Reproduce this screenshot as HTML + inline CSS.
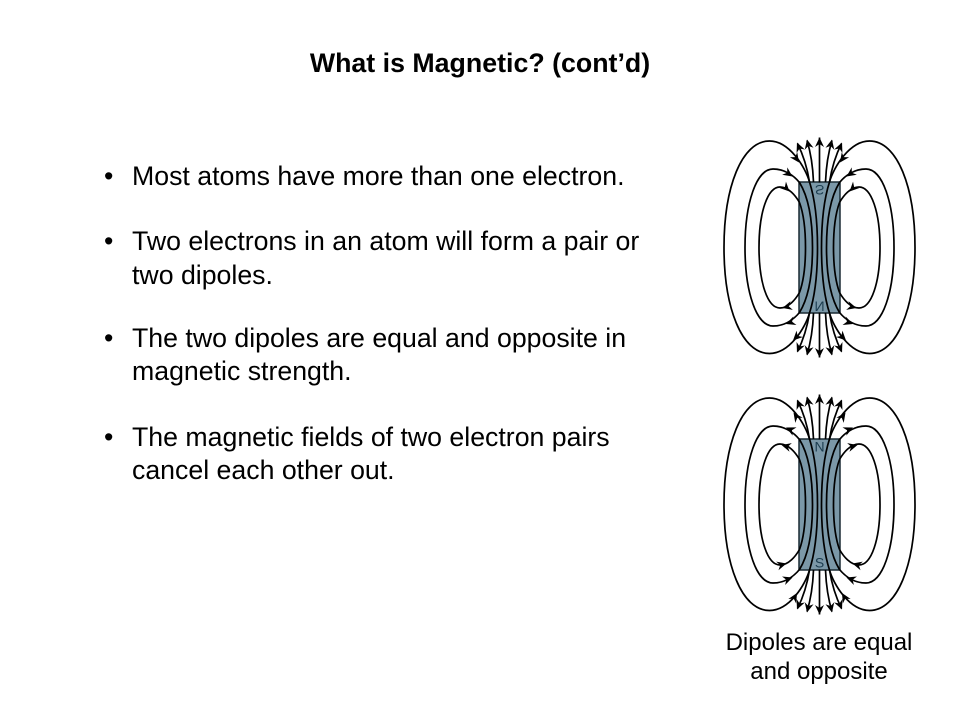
<!DOCTYPE html>
<html>
<head>
<meta charset="utf-8">
<style>
html,body{margin:0;padding:0;background:#fff;width:960px;height:720px;overflow:hidden}
svg{display:block}
text{font-family:"Liberation Sans",sans-serif;fill:#000}
</style>
</head>
<body>
<svg width="960" height="720" viewBox="0 0 960 720" xmlns="http://www.w3.org/2000/svg">
<defs>
  <path id="h" d="M0 0L-9.500 -4.500L-6.500 0L-9.500 4.500Z" fill="#000"/>
  <g id="half" fill="none" stroke="#000" stroke-width="1.700">
    <path d="M-10 -65.500C-14 -80 -30 -106.500 -50 -106.500C-78 -106.500 -95.500 -60 -95.500 0C-95.500 60 -78 106 -50 106C-30 106 -14 80 -10 65.500"/>
    <path d="M-20 -65C-25 -71 -34 -78.500 -46.500 -78.500C-63 -78.500 -74.500 -45 -74.500 0C-74.500 45 -63 78.500 -46.500 78.500C-34 78.500 -25 71 -20 65"/>
    <path d="M-20 -45C-24 -52 -31 -60.500 -39.500 -60.500C-52 -60.500 -60.500 -35 -60.500 0C-60.500 35 -52 60.500 -39.500 60.500C-31 60.500 -24 52 -20 45"/>
    <path d="M-20 -65C-12 -52 -7 -30 -7 0C-7 30 -12 52 -20 65"/>
    <path d="M-20 -45C-16 -34 -14 -20 -14 0C-14 20 -16 34 -20 45"/>
    <path d="M-10 -65.500C-5 -50 -2 -30 -2 0C-2 30 -5 50 -10 65.500"/>
    <path d="M-10 -65.500C-12 -78 -16 -92 -22 -104"/>
    <path d="M-6 -65.500C-6.500 -78 -8.500 -94 -12.500 -107"/>
    <path d="M-10 65.500C-12 78 -16 92 -22 104"/>
    <path d="M-6 65.500C-6.500 78 -8.500 94 -12.500 107"/>
  </g>
  <g id="fanL">
    <use href="#h" transform="translate(-22.500 -105) rotate(-113)"/>
    <use href="#h" transform="translate(-12.500 -108) rotate(-103)"/>
  </g>
  <g id="field">
    <use href="#half"/>
    <use href="#half" transform="scale(-1 1)"/>
    <path d="M0 -65V-110M0 65V110" stroke="#000" stroke-width="1.700" fill="none"/>
    <use href="#fanL"/>
    <use href="#fanL" transform="scale(-1 1)"/>
    <use href="#fanL" transform="scale(1 -1)"/>
    <use href="#fanL" transform="scale(-1 -1)"/>
    <use href="#h" transform="translate(0 -110) rotate(-90)"/>
    <use href="#h" transform="translate(0 110) rotate(90)"/>
  </g>
  <g id="loopA">
    <use href="#h" transform="translate(-20.500 -85) rotate(55)"/>
    <use href="#h" transform="translate(-27 -71) rotate(35)"/>
    <use href="#h" transform="translate(-30 -56) rotate(45)"/>
    <use href="#h" transform="translate(-26.500 93) rotate(135)"/>
    <use href="#h" transform="translate(-33.500 76.500) rotate(160)"/>
    <use href="#h" transform="translate(-37 60.500) rotate(165)"/>
  </g>
  <g id="loopB">
    <use href="#h" transform="translate(-26 -92) rotate(235)"/>
    <use href="#h" transform="translate(-33.500 -77) rotate(205)"/>
    <use href="#h" transform="translate(-38 -59.500) rotate(195)"/>
    <use href="#h" transform="translate(-22.500 88.500) rotate(-60)"/>
    <use href="#h" transform="translate(-27 73) rotate(-20)"/>
    <use href="#h" transform="translate(-33 59) rotate(-15)"/>
  </g>
</defs>

<rect width="960" height="720" fill="#fff"/>

<text x="480" y="72" text-anchor="middle" font-size="26.750" font-weight="bold">What is Magnetic? (cont’d)</text>

<g font-size="26.700">
  <text x="104" y="185">•</text>
  <text x="132" y="185">Most atoms have more than one electron.</text>
  <text x="104" y="250">•</text>
  <text x="132" y="250">Two electrons in an atom will form a pair or</text>
  <text x="132" y="284">two dipoles.</text>
  <text x="104" y="347">•</text>
  <text x="132" y="347">The two dipoles are equal and opposite in</text>
  <text x="132" y="380">magnetic strength.</text>
  <text x="104" y="446">•</text>
  <text x="132" y="446">The magnetic fields of two electron pairs</text>
  <text x="132" y="479">cancel each other out.</text>
</g>

<!-- top magnet -->
<rect x="799" y="182" width="41" height="131" fill="#7b98a8" stroke="#1a2a33" stroke-width="1.500"/>
<g transform="translate(819.500 247.500)">
  <use href="#field"/>
  <use href="#loopA"/>
  <use href="#loopA" transform="scale(-1 1)"/>
</g>
<text x="0" y="0" transform="translate(819.500 185) scale(1 -1)" text-anchor="middle" font-size="14" style="fill:#1c3d50">S</text>
<text x="0" y="0" transform="translate(819.500 301.700) scale(1 -1)" text-anchor="middle" font-size="14" style="fill:#1c3d50">N</text>

<!-- bottom magnet -->
<rect x="799" y="439" width="41" height="131" fill="#7b98a8" stroke="#1a2a33" stroke-width="1.500"/>
<g transform="translate(819.500 504.500)">
  <use href="#field"/>
  <use href="#loopB"/>
  <use href="#loopB" transform="scale(-1 1)"/>
</g>
<text x="819.500" y="451.700" text-anchor="middle" font-size="14" style="fill:#1c3d50">N</text>
<text x="819.500" y="567.300" text-anchor="middle" font-size="14" style="fill:#1c3d50">S</text>

<text x="819" y="650" text-anchor="middle" font-size="24">Dipoles are equal</text>
<text x="819" y="679" text-anchor="middle" font-size="24">and opposite</text>
</svg>
</body>
</html>
